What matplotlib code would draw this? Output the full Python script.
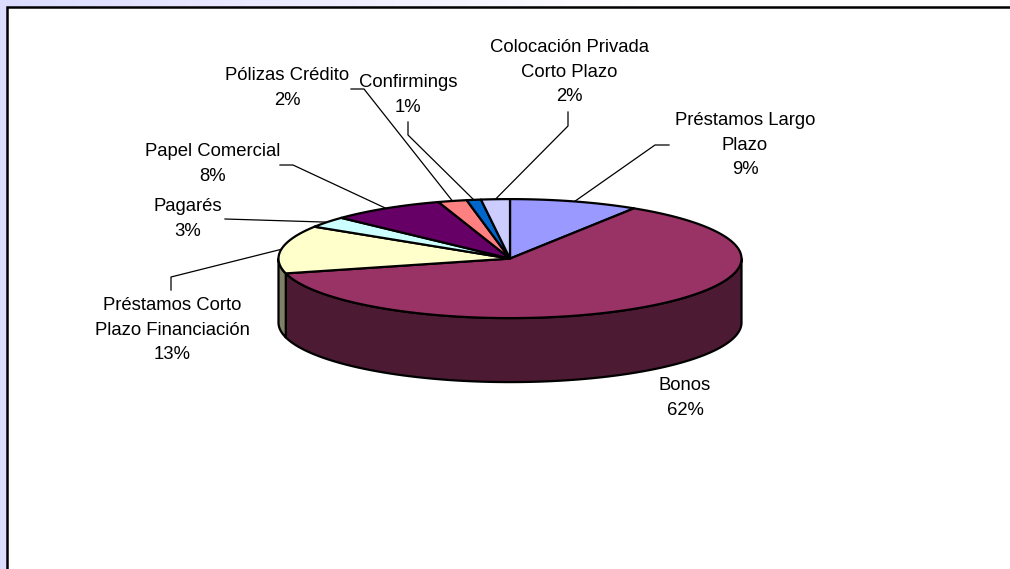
import numpy as np
import matplotlib.pyplot as plt
from matplotlib.patches import Polygon, Rectangle
from matplotlib.colors import to_rgb

# Debt structure by instrument (share of total, %), clockwise from 12 o'clock
labels = ['Préstamos Largo\nPlazo', 'Bonos', 'Préstamos Corto\nPlazo Financiación',
          'Pagarés', 'Papel Comercial', 'Pólizas Crédito', 'Confirmings',
          'Colocación Privada\nCorto Plazo']
values = [9, 62, 13, 3, 8, 2, 1, 2]
colors = ['#9999FF', '#993366', '#FFFFCC', '#CCFFFF', '#660066', '#FF8080',
          '#0066CC', '#CCCCFF']

# label block centres and leader-line elbows (pixel coordinates)
label_pos = [(745, 145), (685, 398), (172, 330), (188, 219), (213, 164),
             (287, 88), (408, 95), (569, 72)]
leader_pts = [[(669, 145), (655, 145)], None, [(171, 290), (171, 277)],
              [(225, 219)], [(280, 165), (293, 165)], [(351, 89), (364, 89)],
              [(408, 122), (408, 135)], [(568, 112), (568, 126)]]

W, H = 1010, 569
cx, cy, rx, ry, depth = 510, 258.6, 231.5, 59.5, 64

fig = plt.figure(figsize=(W / 100, H / 100), dpi=100)
ax = fig.add_axes([0, 0, 1, 1])
ax.set_xlim(0, W)
ax.set_ylim(H, 0)
ax.axis('off')

# lavender-to-white background behind the chart frame
grad = np.clip(np.linspace(0, 1, 400) / 0.65, 0, 1)
c0 = np.array([220, 220, 255]) / 255
img = c0[None, :] + (1 - c0)[None, :] * grad[:, None]
ax.imshow(img[None, :, :], extent=[0, W, H, 0], aspect='auto', zorder=0)
ax.add_patch(Rectangle((7, 7), W + 50, H + 50, fc='white', ec='black', lw=1.8, zorder=0.5))


def pt(theta, dy=0.0):
    # theta measured clockwise from the top of the pie, in degrees
    a = np.radians(90 - theta)
    return cx + rx * np.cos(a), cy - ry * np.sin(a) + dy


def arc(t0, t1, dy=0.0):
    n = max(int(abs(t1 - t0) * 2), 2)
    ts = np.linspace(t0, t1, n)
    xs, ys = pt(ts, dy)
    return list(zip(xs, ys))


total = sum(values)
bounds = np.concatenate([[0], np.cumsum(values) / total * 360])

# side walls for the front half (90..270 deg clockwise)
for i, col in enumerate(colors):
    t0, t1 = bounds[i], bounds[i + 1]
    s, e = max(t0, 90), min(t1, 270)
    if e <= s:
        continue
    side = np.array(to_rgb(col)) * 0.5
    verts = arc(s, e) + arc(e, s, depth)
    ax.add_patch(Polygon(verts, closed=True, fc=side, ec='black', lw=1.6,
                         joinstyle='round', zorder=2))

# top faces
for i, col in enumerate(colors):
    t0, t1 = bounds[i], bounds[i + 1]
    verts = [(cx, cy)] + arc(t0, t1)
    ax.add_patch(Polygon(verts, closed=True, fc=col, ec='black', lw=1.6,
                         joinstyle='round', zorder=3))

# leader lines and labels
for i, lab in enumerate(labels):
    mid = (bounds[i] + bounds[i + 1]) / 2
    if leader_pts[i] is not None:
        pts = leader_pts[i] + [pt(mid)]
        xs, ys = zip(*pts)
        ax.plot(xs, ys, color='black', lw=0.9, zorder=1)
    x, y = label_pos[i]
    ax.text(x, y, f'{lab}\n{values[i]}%', ha='center', va='center',
            multialignment='center', fontsize=13.3, family='Liberation Sans',
            linespacing=1.55, color='black', zorder=4)

fig.savefig('out.png', dpi=100)
